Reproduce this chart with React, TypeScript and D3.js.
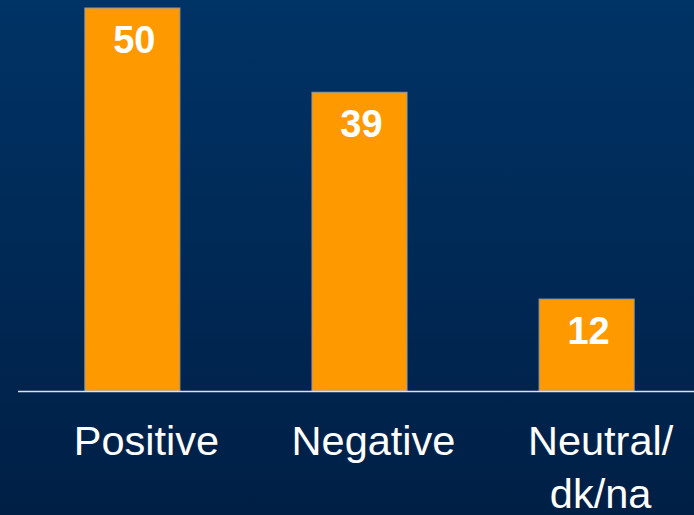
import React from "react";
import * as d3 from "d3";

const categories: string[][] = [["Positive"], ["Negative"], ["Neutral/", "dk/na"]];
const values: number[] = [50, 39, 12];

const W = 694;
const H = 515;

export default function App() {
  const keys = categories.map((c) => c.join(" "));
  const x = d3
    .scaleBand<string>()
    .domain(keys)
    .range([19, 700])
    .paddingInner(0.5815)
    .paddingOuter(0.29);
  const y = d3.scaleLinear().domain([0, 50]).range([391, 8]);

  return (
    <svg
      width={W}
      height={H}
      style={{ position: "fixed", left: 0, top: 0, display: "block" }}
      fontFamily="Arial, 'Liberation Sans', Helvetica, sans-serif"
    >
      <defs>
        <linearGradient id="bg" x1="0" y1="0" x2="0" y2="1">
          <stop offset="0" stopColor="#003366" />
          <stop offset="1" stopColor="#001F45" />
        </linearGradient>
      </defs>
      <rect x={0} y={0} width={W} height={H} fill="url(#bg)" />
      {values.map((v, i) => {
        const k = keys[i];
        const bx = x(k)!;
        const bw = x.bandwidth();
        return (
          <g key={k}>
            <rect
              x={bx}
              y={y(v)}
              width={bw}
              height={y(0) - y(v)}
              fill="#FF9900"
              stroke="#8E9AA6"
              strokeWidth={1}
            />
            <text
              x={bx + bw / 2 + 2}
              y={y(v) + 45}
              textAnchor="middle"
              fill="#FFFFFF"
              fontWeight="bold"
              fontSize={38}
            >
              {v}
            </text>
          </g>
        );
      })}
      <line x1={18} x2={W} y1={y(0) + 0.5} y2={y(0) + 0.5} stroke="#E0E0E0" strokeWidth={1.5} />
      {categories.map((lines, i) => {
        const k = keys[i];
        const cx = x(k)! + x.bandwidth() / 2 + 14;
        return (
          <text key={k} textAnchor="middle" fill="#FFFFFF" fontSize={41.5}>
            {lines.map((ln, j) => (
              <tspan key={j} x={cx} y={455 + j * 53}>
                {ln}
              </tspan>
            ))}
          </text>
        );
      })}
    </svg>
  );
}
